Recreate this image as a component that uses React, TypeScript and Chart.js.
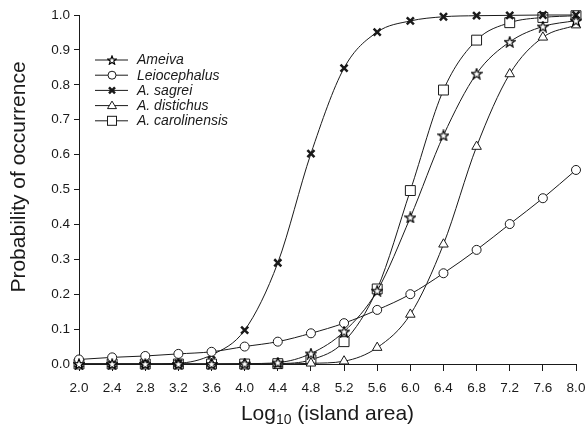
import React, { useEffect, useRef } from "react";
import { Chart, registerables } from "chart.js";

Chart.register(...registerables);

const xValues = [2.0, 2.4, 2.8, 3.2, 3.6, 4.0, 4.4, 4.8, 5.2, 5.6, 6.0, 6.4, 6.8, 7.2, 7.6, 8.0];
const xTicks = [2.0, 2.4, 2.8, 3.2, 3.6, 4.0, 4.4, 4.8, 5.2, 5.6, 6.0, 6.4, 6.8, 7.2, 7.6, 8.0];
const yTicks = [0.0, 0.1, 0.2, 0.3, 0.4, 0.5, 0.6, 0.7, 0.8, 0.9, 1.0];

const ameiva = [0, 0, 0, 0, 0, 0.001, 0.004, 0.03, 0.093, 0.21, 0.42, 0.655, 0.832, 0.923, 0.967, 0.984];
const leiocephalus = [0.013, 0.019, 0.023, 0.029, 0.035, 0.05, 0.064, 0.088, 0.117, 0.155, 0.2, 0.26, 0.327, 0.401, 0.475, 0.556];
const sagrei = [0, 0, 0, 0.002, 0.026, 0.097, 0.29, 0.603, 0.848, 0.951, 0.983, 0.995, 0.998, 0.999, 1.0, 1.0];
const distichus = [0, 0, 0, 0, 0, 0, 0, 0.002, 0.008, 0.047, 0.142, 0.343, 0.623, 0.831, 0.936, 0.971];
const carolinensis = [0, 0, 0, 0, 0, 0, 0.001, 0.012, 0.064, 0.215, 0.497, 0.785, 0.928, 0.978, 0.993, 0.998];

const seriesNames = ["Ameiva", "Leiocephalus", "A. sagrei", "A. distichus", "A. carolinensis"];

const INK = "#1a1a1a";
const FONT = "'Liberation Sans', Arial, sans-serif";

function starPath(ctx: CanvasRenderingContext2D, cx: number, cy: number, ro: number, ri: number) {
  ctx.beginPath();
  for (let i = 0; i < 10; i++) {
    const r = i % 2 === 0 ? ro : ri;
    const a = -Math.PI / 2 + (i * Math.PI) / 5;
    const x = cx + r * Math.cos(a);
    const y = cy + r * Math.sin(a);
    if (i === 0) ctx.moveTo(x, y);
    else ctx.lineTo(x, y);
  }
  ctx.closePath();
}

function makeStar(size: number, ro: number, ri: number): HTMLCanvasElement {
  const c = document.createElement("canvas");
  c.width = size;
  c.height = size;
  const ctx = c.getContext("2d")!;
  starPath(ctx, size / 2, size / 2 + 0.5, ro, ri);
  ctx.fillStyle = "#fff";
  ctx.fill();
  ctx.strokeStyle = "#000";
  ctx.lineWidth = 1.2;
  ctx.stroke();
  return c;
}

function drawMarker(ctx: CanvasRenderingContext2D, kind: string, x: number, y: number, star: HTMLCanvasElement) {
  ctx.save();
  ctx.strokeStyle = INK;
  ctx.fillStyle = "#fff";
  ctx.lineWidth = 1;
  if (kind === "star") {
    ctx.drawImage(star, Math.round(x - star.width / 2), Math.round(y - star.height / 2));
  } else if (kind === "circle") {
    ctx.beginPath();
    ctx.arc(x, y, 4, 0, Math.PI * 2);
    ctx.fill();
    ctx.stroke();
  } else if (kind === "cross") {
    ctx.lineWidth = 2.5;
    ctx.beginPath();
    ctx.moveTo(x - 3, y - 3);
    ctx.lineTo(x + 3, y + 3);
    ctx.moveTo(x + 3, y - 3);
    ctx.lineTo(x - 3, y + 3);
    ctx.stroke();
  } else if (kind === "triangle") {
    ctx.beginPath();
    ctx.moveTo(x, y - 4.5);
    ctx.lineTo(x + 4.5, y + 3);
    ctx.lineTo(x - 4.5, y + 3);
    ctx.closePath();
    ctx.fill();
    ctx.stroke();
  } else if (kind === "rect") {
    ctx.fillRect(x - 4.5, y - 4.5, 9, 9);
    ctx.strokeRect(x - 4.5, y - 4.5, 9, 9);
  }
  ctx.restore();
}

export default function App() {
  const ref = useRef<HTMLCanvasElement>(null);

  useEffect(() => {
    document.body.style.margin = "0";
    const star = makeStar(12, 5.5, 2.3);
    const legendStar = makeStar(10, 4.5, 1.9);
    const kinds = ["star", "circle", "cross", "triangle", "rect"];
    const values = [ameiva, leiocephalus, sagrei, distichus, carolinensis];

    const common = {
      borderColor: INK,
      borderWidth: 1,
      cubicInterpolationMode: "monotone" as const,
      pointBackgroundColor: "#fff",
      pointBorderColor: INK,
      clip: false as const,
    };

    const datasets: any[] = values.map((vals, i) => {
      const base: any = {
        ...common,
        label: seriesNames[i],
        data: xValues.map((x, j) => ({ x, y: vals[j] })),
      };
      const k = kinds[i];
      if (k === "star") {
        base.pointStyle = star;
        base.pointRadius = 6;
      } else if (k === "circle") {
        base.pointStyle = "circle";
        base.pointRadius = 4.5;
        base.pointBorderWidth = 1;
      } else if (k === "cross") {
        base.pointStyle = "crossRot";
        base.pointRadius = 5;
        base.pointBorderWidth = 2.5;
      } else if (k === "triangle") {
        base.pointStyle = "triangle";
        base.pointRadius = 5.5;
        base.pointBorderWidth = 1;
      } else {
        base.pointStyle = "rect";
        base.pointRadius = 7;
        base.pointBorderWidth = 1;
      }
      return base;
    });

    const decor = {
      id: "decor",
      afterDraw(chart: any) {
        const ctx = chart.ctx as CanvasRenderingContext2D;
        const area = chart.chartArea;
        ctx.save();
        // legend
        ctx.font = `italic 14px ${FONT}`;
        ctx.textBaseline = "middle";
        ctx.textAlign = "left";
        for (let i = 0; i < seriesNames.length; i++) {
          const y = 60 + i * 15.2;
          ctx.strokeStyle = INK;
          ctx.lineWidth = 1;
          ctx.beginPath();
          ctx.moveTo(95, y);
          ctx.lineTo(128, y);
          ctx.stroke();
          drawMarker(ctx, kinds[i], 112, y, legendStar);
          ctx.fillStyle = INK;
          ctx.fillText(seriesNames[i], 137, y + 0.5);
        }
        // y title
        ctx.save();
        ctx.translate(19, 177);
        ctx.rotate(-Math.PI / 2);
        ctx.font = `21px ${FONT}`;
        ctx.textAlign = "center";
        ctx.textBaseline = "middle";
        ctx.fillStyle = INK;
        ctx.fillText("Probability of occurrence", 0, 0);
        ctx.restore();
        // x title with subscript
        const big = `21px ${FONT}`;
        const small = `14px ${FONT}`;
        ctx.font = big;
        const w1 = ctx.measureText("Log").width;
        const w3 = ctx.measureText(" (island area)").width;
        ctx.font = small;
        const w2 = ctx.measureText("10").width;
        const total = w1 + w2 + w3;
        let x = (area.left + area.right) / 2 - total / 2;
        const base = 420;
        ctx.textAlign = "left";
        ctx.textBaseline = "alphabetic";
        ctx.fillStyle = INK;
        ctx.font = big;
        ctx.fillText("Log", x, base);
        x += w1;
        ctx.font = small;
        ctx.fillText("10", x, base + 4);
        x += w2;
        ctx.font = big;
        ctx.fillText(" (island area)", x, base);
        ctx.restore();
      },
    };

    const chart = new Chart(ref.current!, {
      type: "line",
      data: { datasets },
      options: {
        animation: false,
        responsive: false,
        maintainAspectRatio: false,
        layout: { padding: { top: 15, right: 10, left: 0, bottom: 0 } },
        plugins: { legend: { display: false }, tooltip: { enabled: false } },
        scales: {
          x: {
            type: "linear",
            min: 2,
            max: 8,
            afterFit: (s: any) => {
              s.height = 61;
              s.paddingRight = 0;
              s.paddingLeft = 0;
            },
            afterBuildTicks: (s: any) => {
              s.ticks = xTicks.map((v) => ({ value: v }));
            },
            ticks: {
              callback: (v: any) => Number(v).toFixed(1),
              font: { size: 13.5, family: FONT },
              color: INK,
              padding: 9,
              maxRotation: 0,
              autoSkip: false,
            },
            grid: { drawOnChartArea: false, drawTicks: true, tickLength: 7, color: INK },
            border: { color: INK, width: 1 },
          },
          y: {
            type: "linear",
            min: 0,
            max: 1,
            afterFit: (s: any) => {
              s.width = 79;
              s.paddingTop = 0;
              s.paddingBottom = 0;
            },
            afterBuildTicks: (s: any) => {
              s.ticks = yTicks.map((v) => ({ value: v }));
            },
            ticks: {
              callback: (v: any) => Number(v).toFixed(1),
              font: { size: 13.5, family: FONT },
              color: INK,
              padding: 4,
              autoSkip: false,
            },
            grid: { drawOnChartArea: false, drawTicks: true, tickLength: 5, color: INK },
            border: { color: INK, width: 1 },
          },
        },
      },
      plugins: [decor],
    });

    return () => chart.destroy();
  }, []);

  return (
    <div style={{ width: 586, height: 425, background: "#fff" }}>
      <canvas ref={ref} width={586} height={425} style={{ display: "block" }} />
    </div>
  );
}
